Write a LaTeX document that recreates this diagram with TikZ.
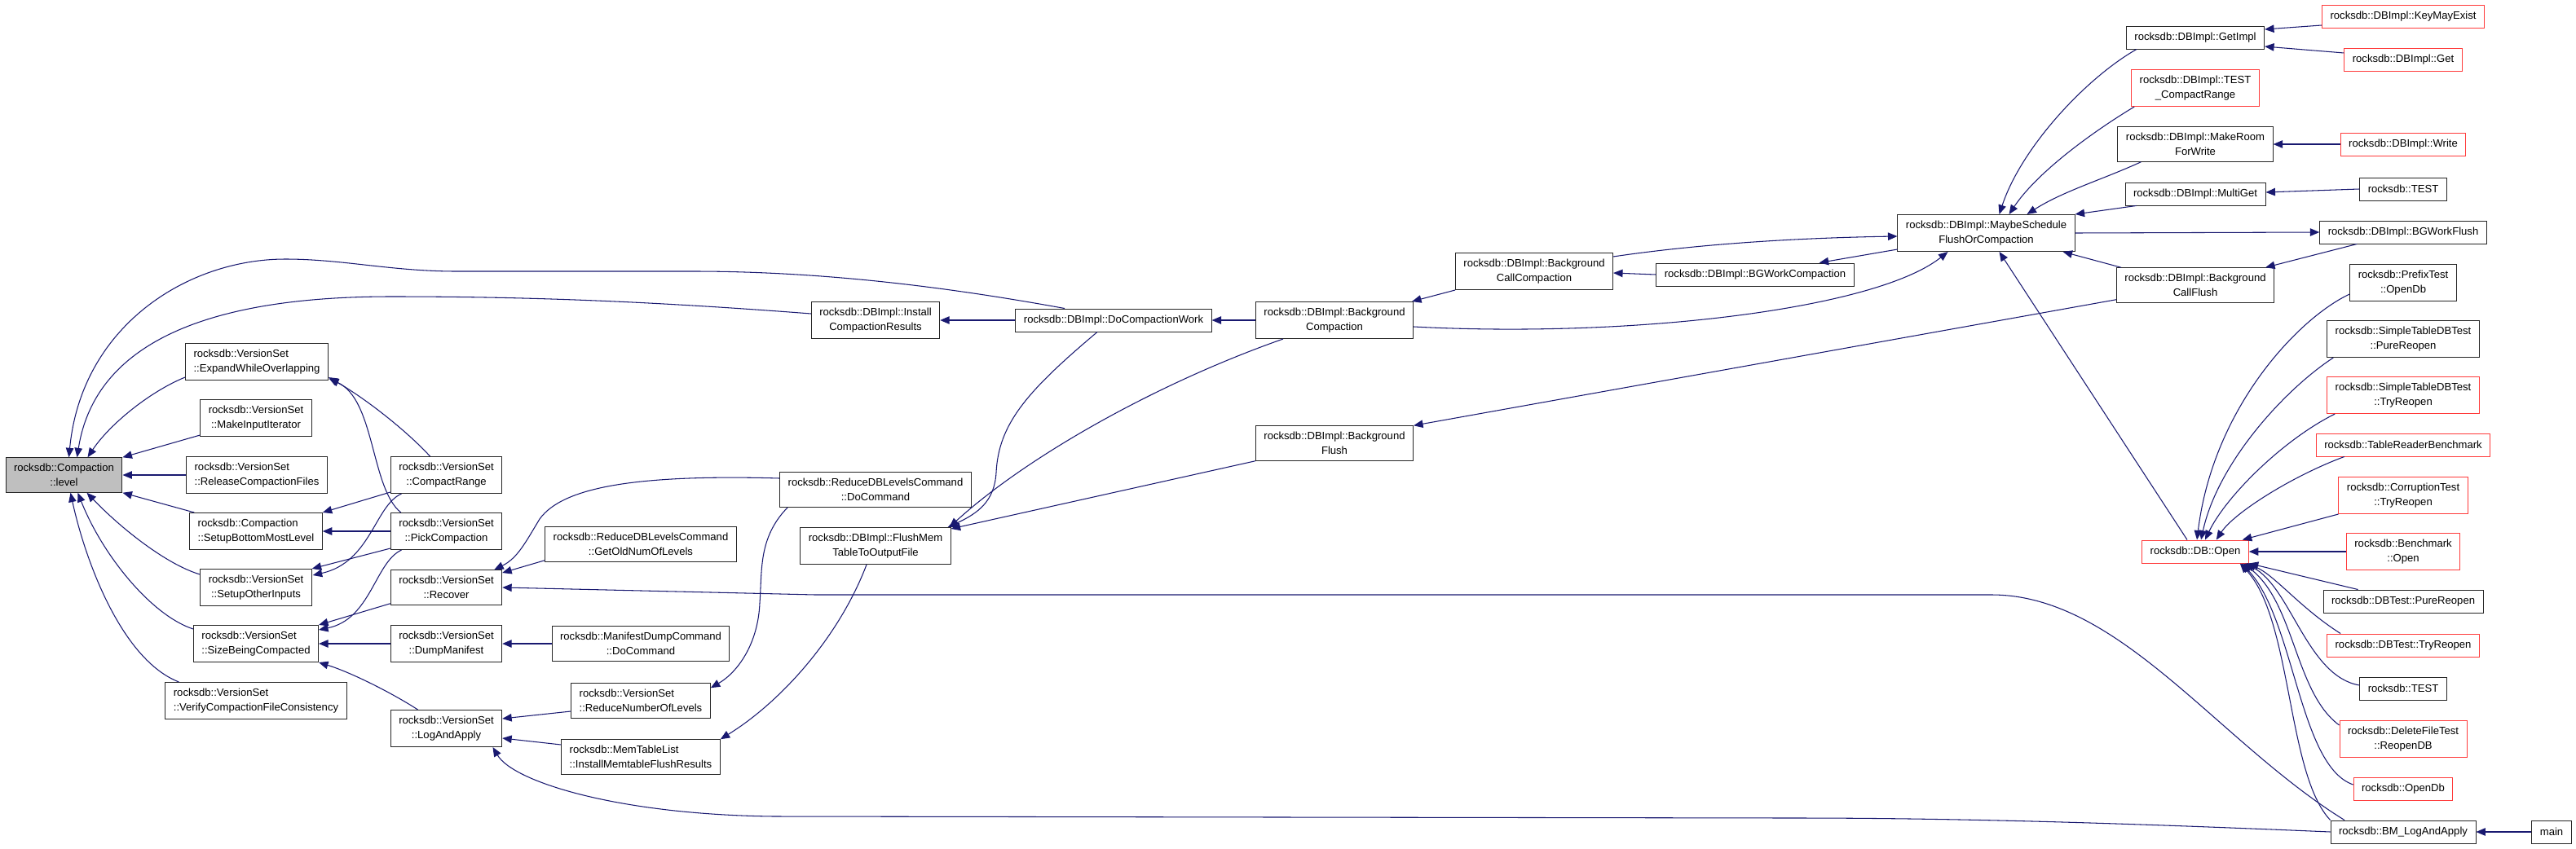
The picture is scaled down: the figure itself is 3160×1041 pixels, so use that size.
\documentclass[tikz,border=0pt]{standalone}
\usepackage{fontspec}
\setmainfont{Liberation Sans}
\usetikzlibrary{arrows.meta,calc}
\definecolor{callblue}{HTML}{191970}
\definecolor{boxred}{HTML}{FF3B3B}
\definecolor{levelgray}{HTML}{BFBFBF}
\tikzset{
  fn/.style={
    rectangle,
    draw=black!85,
    line width=0.55pt,
    fill=white,
    align=center,
    inner xsep=0.2cm,
    inner ysep=0.155cm,
    minimum height=0.56cm,
    font=\fontsize{7.45}{9.9}\selectfont
  },
  fnl/.style={fn, align=left},
  fnred/.style={fn, draw=boxred},
  fnsel/.style={fn, fill=levelgray},
  call/.style={-{Triangle[length=0.23cm, width=0.19cm]}, draw=callblue, line width=0.6pt}
}
\begin{document}
\begin{tikzpicture}[x=0.02cm, y=-0.02cm]
  \useasboundingbox (0,0) rectangle (3160,1041);

  \node[fnsel] (lvl) at (78.5,583) {rocksdb::Compaction\\::level};
  \node[fnl] (ewo) at (315,444) {rocksdb::VersionSet\\::ExpandWhileOverlapping};
  \node[fn] (mii) at (314,513) {rocksdb::VersionSet\\::MakeInputIterator};
  \node[fnl] (rcf) at (315,583) {rocksdb::VersionSet\\::ReleaseCompactionFiles};
  \node[fnl] (sbm) at (314,652) {rocksdb::Compaction\\::SetupBottomMostLevel};
  \node[fn] (soi) at (314,721) {rocksdb::VersionSet\\::SetupOtherInputs};
  \node[fnl] (sbc) at (314,790) {rocksdb::VersionSet\\::SizeBeingCompacted};
  \node[fnl] (vcf) at (314,860) {rocksdb::VersionSet\\::VerifyCompactionFileConsistency};

  \node[fn] (cr) at (547.5,583) {rocksdb::VersionSet\\::CompactRange};
  \node[fn] (pc) at (547.5,652) {rocksdb::VersionSet\\::PickCompaction};
  \node[fn] (rec) at (547.5,721) {rocksdb::VersionSet\\::Recover};
  \node[fn] (dm) at (547.5,790) {rocksdb::VersionSet\\::DumpManifest};
  \node[fn] (laa) at (547.5,894) {rocksdb::VersionSet\\::LogAndApply};

  \node[fn] (gon) at (786,668) {rocksdb::ReduceDBLevelsCommand\\::GetOldNumOfLevels};
  \node[fn] (mdc) at (786,790) {rocksdb::ManifestDumpCommand\\::DoCommand};
  \node[fnl] (rnl) at (786,860) {rocksdb::VersionSet\\::ReduceNumberOfLevels};
  \node[fnl] (imf) at (786,929) {rocksdb::MemTableList\\::InstallMemtableFlushResults};

  \node[fn] (icr) at (1074,393) {rocksdb::DBImpl::Install\\CompactionResults};
  \node[fn] (rdc) at (1074,601) {rocksdb::ReduceDBLevelsCommand\\::DoCommand};
  \node[fn] (fmt) at (1074,670) {rocksdb::DBImpl::FlushMem\\TableToOutputFile};

  \node[fn] (dcw) at (1366,393) {rocksdb::DBImpl::DoCompactionWork};
  \node[fn] (bgc) at (1637,393) {rocksdb::DBImpl::Background\\Compaction};
  \node[fn] (bgf) at (1637,544) {rocksdb::DBImpl::Background\\Flush};
  \node[fn] (bcc) at (1882,333) {rocksdb::DBImpl::Background\\CallCompaction};
  \node[fn] (bwc) at (2153,337) {rocksdb::DBImpl::BGWorkCompaction};
  \node[fn] (msf) at (2436.5,286) {rocksdb::DBImpl::MaybeSchedule\\FlushOrCompaction};

  \node[fn] (gim) at (2693,46) {rocksdb::DBImpl::GetImpl};
  \node[fnred] (tcr) at (2693,108) {rocksdb::DBImpl::TEST\\\_CompactRange};
  \node[fn] (mrw) at (2693,177) {rocksdb::DBImpl::MakeRoom\\ForWrite};
  \node[fn] (mg) at (2693,238) {rocksdb::DBImpl::MultiGet};
  \node[fn] (bcf) at (2693,350) {rocksdb::DBImpl::Background\\CallFlush};
  \node[fnred] (dbo) at (2693,677) {rocksdb::DB::Open};

  \node[fnred] (kme) at (2948,20) {rocksdb::DBImpl::KeyMayExist};
  \node[fnred] (get) at (2948,73) {rocksdb::DBImpl::Get};
  \node[fnred] (wr) at (2948,177) {rocksdb::DBImpl::Write};
  \node[fn] (tst1) at (2948,232) {rocksdb::TEST};
  \node[fn] (bwf) at (2948,285) {rocksdb::DBImpl::BGWorkFlush};
  \node[fn] (pto) at (2948,347) {rocksdb::PrefixTest\\::OpenDb};
  \node[fn] (stp) at (2948,416) {rocksdb::SimpleTableDBTest\\::PureReopen};
  \node[fnred] (stt) at (2948,485) {rocksdb::SimpleTableDBTest\\::TryReopen};
  \node[fnred] (trb) at (2948,546) {rocksdb::TableReaderBenchmark};
  \node[fnred] (ctr) at (2948,608) {rocksdb::CorruptionTest\\::TryReopen};
  \node[fnred] (bmo) at (2948,677) {rocksdb::Benchmark\\::Open};
  \node[fn] (dpr) at (2948,738) {rocksdb::DBTest::PureReopen};
  \node[fnred] (dtr) at (2948,792) {rocksdb::DBTest::TryReopen};
  \node[fn] (tst2) at (2948,845) {rocksdb::TEST};
  \node[fnred] (dfr) at (2948,907) {rocksdb::DeleteFileTest\\::ReopenDB};
  \node[fnred] (odb) at (2948,968) {rocksdb::OpenDb};
  \node[fn] (bml) at (2948,1021) {rocksdb::BM\_LogAndApply};
  \node[fn] (mn) at (3130,1021) {main};

  \draw[call] ($(ewo.south west)+(0,-4)$) .. controls (185,480) and (135,520) .. ($(lvl.north)+(29,0)$);
  \draw[call] ($(mii.south west)+(0,-2)$) -- (lvl.north east);
  \draw[call] (rcf.west) -- (lvl.east);
  \draw[call] ($(sbm.north west)+(6,0)$) -- (lvl.south east);
  \draw[call] ($(soi.west)+(0,-16)$) .. controls (205,693) and (150,650) .. ($(lvl.south)+(28,0)$);
  \draw[call] ($(sbc.north west)+(0,5)$) .. controls (185,755) and (125,680) .. ($(lvl.south)+(17,0)$);
  \draw[call] ($(vcf.north west)+(17,0)$) .. controls (150,810) and (105,690) .. ($(lvl.south)+(8,0)$);
  \draw[call] ($(dcw.north)+(-60,0)$) .. controls (1150,350) and (1000,333) .. (850,333) -- (560,333)
    .. controls (480,333) and (420,318) .. (350,318) .. controls (230,318) and (100,400) .. ($(lvl.north)+(6,0)$);
  \draw[call] ($(icr.west)+(0,-8)$) .. controls (800,370) and (650,364) .. (480,364)
    .. controls (300,364) and (120,400) .. ($(lvl.north)+(16,0)$);

  \draw[call] ($(cr.north)+(-20,0)$) .. controls (500,530) and (450,490) .. ($(ewo.south east)+(0,-4)$);
  \draw[call] ($(pc.north west)+(13,0)$) .. controls (455,600) and (460,490) .. ($(ewo.south east)+(1,-2)$);
  \draw[call] ($(cr.south west)+(0,-2)$) -- (sbm.north east);
  \draw[call] (pc.west) -- (sbm.east);
  \draw[call] ($(pc.south west)+(0,-2)$) -- (soi.north east);
  \draw[call] ($(cr.south)+(-55,0)$) .. controls (460,620) and (455,690) .. ($(soi.east)+(1,-15)$);
  \draw[call] ($(rec.south west)+(0,-2)$) -- (sbc.north east);
  \draw[call] ($(pc.south)+(-55,0)$) .. controls (460,690) and (455,760) .. ($(sbc.east)+(0,-17)$);
  \draw[call] (dm.west) -- (sbc.east);
  \draw[call] ($(laa.north)+(-35,0)$) .. controls (480,850) and (430,825) .. (sbc.south east);

  \draw[call] ($(gon.south west)+(0,-2)$) -- ($(rec.east)+(0,-18)$);
  \draw[call] ($(rdc.west)+(0,-14)$) .. controls (780,582) and (690,598) .. (662,637)
    .. controls (645,665) and (635,685) .. ($(rec.north east)+(-10,0)$);
  \draw[call] ($(bml.north)+(-72,0)$) .. controls (2720,910) and (2600,730) .. (2443,730) -- (1000,730) -- (rec.east);
  \draw[call] (mdc.west) -- (dm.east);
  \draw[call] ($(rnl.west)+(0,13)$) -- ($(laa.east)+(0,-12)$);
  \draw[call] ($(imf.west)+(0,-15)$) -- ($(laa.east)+(0,12)$);
  \draw[call] (bml.west) .. controls (2600,1010) and (2400,1004) .. (2200,1004) -- (950,1002)
    .. controls (760,1000) and (630,960) .. ($(laa.south)+(57,0)$);
  \draw[call] ($(rdc.south west)+(10,0)$) .. controls (930,660) and (935,700) .. (932,740)
    .. controls (930,790) and (905,825) .. ($(rnl.north east)+(0,6)$);
  \draw[call] ($(fmt.south)+(-11,0)$) .. controls (1030,780) and (960,860) .. (imf.north east);

  \draw[call] (dcw.west) -- (icr.east);
  \draw[call] (bgc.west) -- (dcw.east);
  \draw[call] ($(dcw.south)+(-20,0)$) .. controls (1260,480) and (1225,520) .. (1222,580)
    .. controls (1220,615) and (1200,630) .. ($(fmt.north east)+(-4,0)$);
  \draw[call] ($(bgc.south west)+(34,0)$) .. controls (1420,470) and (1260,560) .. ($(fmt.north east)+(-2,0)$);
  \draw[call] (bgf.south west) -- ($(fmt.north east)+(0,2)$);
  \draw[call] (bcc.south west) -- ($(bgc.north east)+(-2,0)$);
  \draw[call] (bwc.west) -- ($(bcc.east)+(0,2)$);
  \draw[call] ($(msf.south west)+(0,-3)$) -- ($(bwc.north east)+(-43,0)$);
  \draw[call] ($(bcc.north east)+(0,5)$) .. controls (2080,300) and (2200,292) .. ($(msf.west)+(0,4)$);
  \draw[call] ($(bgc.east)+(0,8)$) .. controls (2000,415) and (2300,380) .. ($(msf.south)+(-47,0)$);
  \draw[call] ($(dbo.north)+(-10,0)$) -- ($(msf.south)+(16,0)$);
  \draw[call] ($(bcf.north west)+(6,0)$) -- ($(msf.south east)+(-15,0)$);
  \draw[call] ($(gim.south west)+(13,0)$) .. controls (2560,95) and (2480,180) .. ($(msf.north)+(16,0)$);
  \draw[call] ($(tcr.south west)+(4,0)$) .. controls (2570,160) and (2500,210) .. ($(msf.north)+(28,0)$);
  \draw[call] ($(mrw.south west)+(29,0)$) .. controls (2580,220) and (2530,235) .. ($(msf.north)+(50,0)$);
  \draw[call] ($(mg.south west)+(14,0)$) -- (msf.north east);
  \draw[call] (msf.east) -- (bwf.west);
  \draw[call] ($(bwf.south west)+(46,0)$) -- ($(bcf.north east)+(-11,0)$);
  \draw[call] ($(bcf.south west)+(0,-4)$) -- (bgf.north east);

  \draw[call] ($(kme.west)+(0,11)$) -- ($(gim.east)+(0,-10)$);
  \draw[call] ($(get.west)+(0,-8)$) -- ($(gim.east)+(0,11)$);
  \draw[call] (wr.west) -- (mrw.east);
  \draw[call] (tst1.west) -- ($(mg.east)+(0,-2)$);

  \draw[call] ($(pto.west)+(0,14)$) .. controls (2820,390) and (2715,500) .. ($(dbo.north)+(2,0)$);
  \draw[call] ($(stp.south west)+(8,0)$) .. controls (2800,480) and (2720,570) .. ($(dbo.north)+(7,0)$);
  \draw[call] ($(stt.south west)+(10,0)$) .. controls (2800,540) and (2730,610) .. ($(dbo.north)+(12,0)$);
  \draw[call] ($(trb.south west)+(35,0)$) .. controls (2810,585) and (2740,630) .. ($(dbo.north east)+(-40,0)$);
  \draw[call] (ctr.south west) -- ($(dbo.north east)+(-8,0)$);
  \draw[call] (bmo.west) -- (dbo.east);
  \draw[call] ($(dpr.north west)+(43,0)$) -- (dbo.south east);
  \draw[call] ($(dtr.north west)+(17,0)$) .. controls (2820,745) and (2790,705) .. ($(dbo.south east)+(-3,0)$);
  \draw[call] ($(tst2.west)+(0,-4)$) .. controls (2830,830) and (2810,720) .. ($(dbo.south east)+(-5,0)$);
  \draw[call] ($(dfr.north west)+(0,6)$) .. controls (2815,850) and (2815,740) .. ($(dbo.south east)+(-7,0)$);
  \draw[call] ($(odb.west)+(0,-5)$) .. controls (2820,940) and (2815,760) .. ($(dbo.south east)+(-9,0)$);
  \draw[call] (bml.north west) .. controls (2805,950) and (2812,760) .. ($(dbo.south east)+(-11,0)$);
  \draw[call] (mn.west) -- (bml.east);
\end{tikzpicture}
\end{document}
